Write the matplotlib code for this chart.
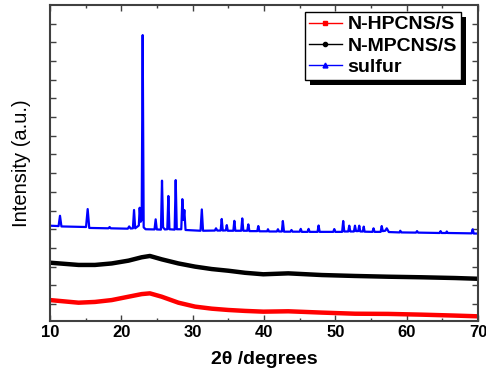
import numpy as np
import matplotlib
matplotlib.use('Agg')
import matplotlib.pyplot as plt
from matplotlib.lines import Line2D
from matplotlib.patches import Rectangle

plt.rcParams['font.family'] = ['Liberation Sans', 'DejaVu Sans']

# 2theta sample points for the two broad carbon/sulfur composites
comp_x = [10.0, 14.0, 16.3, 18.65, 21.0, 22.85, 24.0, 25.66, 28.0, 30.33,
          32.67, 35.0, 37.34, 39.9, 43.4, 48.1, 52.76, 57.4, 62.1, 66.78, 70.0]
hpcns_y = [0.21, 0.07, 0.11, 0.21, 0.39, 0.53, 0.57, 0.39, 0.07, -0.14,
           -0.25, -0.32, -0.37, -0.41, -0.39, -0.46, -0.52, -0.53, -0.57, -0.62, -0.66]
mpcns_y = [2.21, 2.09, 2.09, 2.17, 2.32, 2.50, 2.57, 2.39, 2.17, 2.00,
           1.87, 1.78, 1.67, 1.59, 1.64, 1.55, 1.50, 1.46, 1.43, 1.39, 1.35]

# sulfur pattern: baseline points and peak tops
sulfur_x = [10.0, 11.2, 11.4, 11.6, 13.0, 15.05, 15.28, 15.5, 18.2, 18.36, 18.5,
            20.9, 21.1, 21.3, 21.62, 21.78, 21.94, 22.45, 22.57, 22.72, 22.85,
            22.99, 23.13, 23.4, 24.65, 24.81, 24.97, 25.55, 25.7, 25.85, 26.1,
            26.44, 26.59, 26.74, 27.47, 27.62, 27.77, 28.4, 28.55, 28.7, 28.83,
            29.0, 31.1, 31.28, 31.45, 33.1, 33.27, 33.45, 33.92, 34.07, 34.22,
            34.65, 34.78, 34.92, 35.7, 35.84, 35.98, 36.8, 36.95, 37.1, 37.65,
            37.8, 37.95, 39.05, 39.2, 39.35, 40.45, 40.55, 40.7, 41.8, 41.95,
            42.1, 42.5, 42.64, 42.8, 43.7, 43.85, 44.0, 45.0, 45.15, 45.3, 46.1,
            46.25, 46.4, 47.5, 47.65, 47.8, 49.7, 49.85, 50.0, 50.95, 51.1, 51.25,
            51.8, 51.95, 52.1, 52.6, 52.75, 52.9, 53.2, 53.35, 53.5, 53.85, 53.98,
            54.1, 55.2, 55.35, 55.5, 56.35, 56.5, 56.65, 57.0, 57.2, 57.5, 59.0,
            59.1, 59.25, 61.3, 61.45, 61.6, 64.6, 64.75, 64.9, 65.5, 65.62, 65.75,
            69.1, 69.25, 69.4, 70.0]
sulfur_y = [4.19, 4.17, 4.72, 4.15, 4.14, 4.12, 5.08, 4.07, 4.05, 4.12, 4.05,
            4.03, 4.15, 4.04, 4.05, 5.03, 4.05, 4.20, 5.15, 4.40, 4.50,
            14.39, 4.10, 4.00, 3.99, 4.53, 3.99, 3.98, 6.60, 4.10, 3.99,
            4.00, 5.78, 4.00, 3.98, 6.63, 4.00, 4.00, 5.61, 4.50, 5.03,
            3.96, 3.92, 5.06, 3.92, 3.93, 4.05, 3.93, 3.93, 4.55, 3.93,
            3.94, 4.22, 3.92, 3.92, 4.45, 3.92, 3.92, 4.58, 3.92, 3.92,
            4.26, 3.90, 3.90, 4.17, 3.89, 3.89, 4.00, 3.88, 3.88, 4.00,
            3.88, 3.88, 4.44, 3.87, 3.87, 3.96, 3.87, 3.87, 4.02, 3.86, 3.86,
            4.02, 3.86, 3.86, 4.20, 3.86, 3.86, 4.01, 3.86, 3.86, 4.44, 3.88,
            3.88, 4.19, 3.88, 3.88, 4.19, 3.90, 3.90, 4.19, 3.88, 3.88, 4.14,
            3.87, 3.86, 4.05, 3.86, 3.86, 4.17, 3.90, 3.92, 4.05, 3.85, 3.83,
            3.92, 3.83, 3.82, 3.90, 3.82, 3.80, 3.90, 3.80, 3.80, 3.88, 3.80,
            3.78, 4.00, 3.77, 3.77]

labels = ['N-HPCNS/S', 'N-MPCNS/S', 'sulfur']

fig = plt.figure(figsize=(4.86, 3.73), dpi=100)
ax = fig.add_axes([0.1029, 0.1394, 0.8807, 0.8472])

ax.plot(comp_x, hpcns_y, color='#ff0000', lw=3.2, solid_joinstyle='round')
ax.plot(comp_x, mpcns_y, color='#000000', lw=3.2, solid_joinstyle='round')
ax.plot(sulfur_x, sulfur_y, color='#0000ff', lw=1.6)

ax.set_xlim(10, 70)
ax.set_ylim(-0.91, 16.0)
ax.set_xticks(np.arange(10, 71, 10))
ax.set_xticks(np.arange(15, 70, 10), minor=True)
ax.set_yticks(np.arange(0, 16, 1))
ax.set_yticklabels([])
ax.tick_params(which='both', direction='in', top=True, right=True,
               color='#404040', width=1.0)
ax.tick_params(which='major', length=4)
ax.tick_params(which='minor', length=2.5)
for lab in ax.get_xticklabels():
    lab.set_fontsize(12)
    lab.set_fontweight('bold')
ax.tick_params(axis='x', pad=3)
for sp in ax.spines.values():
    sp.set_color('#404040')
    sp.set_linewidth(1.5)

ax.set_xlabel('2θ /degrees', fontsize=14, fontweight='bold', labelpad=8)
ax.set_ylabel('Intensity (a.u.)', fontsize=14.5, labelpad=10)

handles = [
    Line2D([], [], color='#ff0000', lw=1, marker='s', markersize=3),
    Line2D([], [], color='#000000', lw=1, marker='o', markersize=3),
    Line2D([], [], color='#0000ff', lw=1, marker='^', markersize=3.5),
]
leg = ax.legend(handles, labels, loc='upper right', bbox_to_anchor=(0.960, 0.978),
                borderaxespad=0, fancybox=False, framealpha=1, edgecolor='black',
                prop={'size': 14, 'weight': 'bold'}, handlelength=1.7,
                handletextpad=0.3, labelspacing=0.18, borderpad=0.2)
leg.get_frame().set_linewidth(1.0)
leg.set_zorder(6)

# solid black drop shadow behind the legend box
fig.canvas.draw()
bb = leg.get_frame().get_window_extent()
inv = ax.transAxes.inverted()
(x0, y0) = inv.transform((bb.x0 + 5, bb.y0 - 5))
(x1, y1) = inv.transform((bb.x1 + 5, bb.y1 - 5))
ax.add_patch(Rectangle((x0, y0), x1 - x0, y1 - y0, transform=ax.transAxes,
                       facecolor='black', edgecolor='none', zorder=5.5, clip_on=False))

fig.savefig('out.png', dpi=100)
